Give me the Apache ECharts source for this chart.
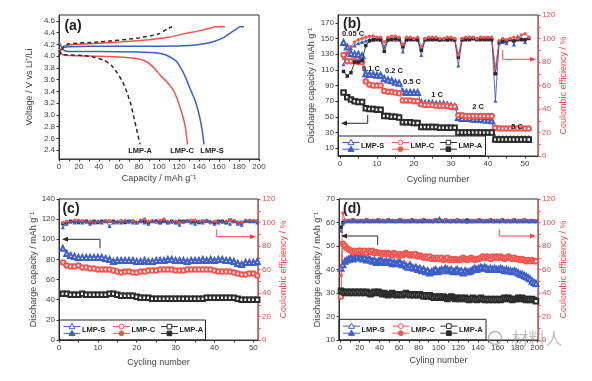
<!DOCTYPE html>
<html><head><meta charset="utf-8">
<script src="https://cdn.jsdelivr.net/npm/echarts@6/dist/echarts.min.js"></script>
<style>html,body{margin:0;padding:0;background:#fff}#c{width:592px;height:381px}</style>
</head><body><div id="c"></div>
<script>
// ---------- Panel (a): voltage profiles [capacity, voltage] ----------
const aS_charge = [[0,4.05],[2,4.12],[5,4.15],[10,4.16],[30,4.17],[60,4.17],[100,4.17],[130,4.18],[145,4.21],[155,4.25],[165,4.32],[172,4.4],[178,4.47],[181,4.5],[185,4.5]];
const aS_dis = [[0,4.25],[2,4.17],[5,4.1],[10,4.08],[40,4.08],[80,4.07],[100,4.05],[107,4.02],[117,3.92],[121,3.82],[126,3.66],[131,3.45],[136,3.25],[139.5,3.05],[142,2.85],[143.5,2.7],[145,2.5]];
const aC_charge = [[0,4.0],[2,4.1],[5,4.17],[10,4.19],[30,4.21],[60,4.24],[90,4.28],[110,4.32],[125,4.38],[140,4.43],[150,4.47],[156,4.5],[166,4.5]];
const aC_dis = [[0,4.12],[3,4.03],[10,4.01],[40,4.0],[65,3.98],[80,3.95],[88,3.9],[95,3.8],[102,3.66],[108,3.56],[114,3.43],[118,3.28],[122,3.08],[125,2.9],[127,2.72],[128.5,2.5]];
const aA_charge = [[0,4.0],[2,4.08],[5,4.17],[10,4.21],[40,4.24],[80,4.31],[100,4.38],[108,4.46],[113,4.5]];
const aA_dis = [[0,4.1],[3,4.03],[8,4.02],[25,4.01],[35,3.98],[45,3.93],[52,3.85],[58,3.72],[64,3.55],[68,3.38],[72,3.17],[75,2.95],[77,2.8],[79,2.65],[81,2.5]];

// ---------- Panel (b): rate performance, cycles 1..51 ----------
const bS_dis = [145,139,131,130,130,128, 105,104,104,103,103, 99,97,96,94,93, 82,81,81,81,81,
  68,67,67,67,66,66,66,65,64,63, 49,48,48,48,47,47,47,46,46,45, 22,21,21,21,21,21,21,21,21,21];
const bC_dis = [129,121,121,121,120,120, 95,91,90,90,90, 83,82,82,81,80, 71,71,71,70,70,
  66,65,65,65,64,64,64,64,63,63, 52,52,51,51,51,51,51,51,51,51, 36,35,35,35,35,35,35,35,35,35];
const bA_dis = [81,75,72,70,69,69, 61,60,60,59,59, 51,51,50,50,49, 43,43,43,42,42,
  37,37,37,37,37,36,36,36,36,36, 30,30,30,30,30,30,30,30,30,30, 21,21,21,21,21,21,21,21,21,21];
const bS_ce = [78,88,92,94,96,97, 98,99,99,100,99, 93,99,100,99,100, 89,99,100,100,99,
  86,99,100,100,100,99,100,99,100,99, 77,99,100,101,100,100,101,100,100,101, 47,96,97,96,100,95,102,100,97,101];
const bC_ce = [83,88,93,97,99,100, 101,102,102,101,101, 97,101,102,102,101, 95,101,101,100,101,
  93,100,101,101,101,100,100,101,101,100, 86,100,101,101,101,100,101,101,101,101, 75,98,100,99,100,101,100,103,104,101];
const bA_ce = [72,68,71,80,80,81, 94,98,99,99,99, 89,99,99,100,99, 93,99,99,99,99,
  90,99,99,99,99,99,99,99,99,99, 84,99,99,99,100,99,99,99,99,99, 70,97,98,98,99,98,99,99,99,100];
const bRates = ['0.05 C','0.1 C','0.2 C','0.5 C','1 C','2 C','5 C'];

// ---------- Panel (c): cycling, cycles 1..51 ----------
const cS_dis = [91,86,84,83,82,82,82,82,82,82, 82,81,80,78,79,79,79,79,79,78, 78,79,78,78,79,79,79,80,80,79,
  79,79,78,79,79,79,80,79,80,79, 80,80,79,79,78,76,75,77,77,77, 78];
const cC_dis = [77,74,73,73,74,72,72,71,71,70, 70,70,70,69,68,67,68,68,67,67, 68,68,69,69,69,70,70,70,70,69,
  69,69,70,70,70,70,70,70,70,69, 68,68,68,68,67,66,65,65,66,66, 64];
const cA_dis = [46,46,45,45,45,46,45,45,45,45, 45,45,46,46,45,44,44,44,44,43, 42,42,42,41,41,41,41,41,41,41,
  41,41,41,41,41,41,41,42,42,42, 42,42,42,42,42,41,40,40,40,40, 40];
const cS_ce = [96,99,101,100,101,100,101,99,100,101, 100,101,97,100,101,100,102,101,100,100, 101,100,99,101,102,100,101,100,101,100,
  98,101,102,100,99,101,100,102,101,99, 100,101,100,99,101,99,98,102,101,101, 100];
const cC_ce = [100,101,100,102,102,101,100,101,100,101, 100,101,101,100,100,101,101,100,101,100, 102,103,101,101,100,102,103,101,100,101,
  100,100,101,102,102,101,101,101,100,101, 100,100,101,102,101,100,100,101,102,101, 101];
const cA_ce = [99,100,101,101,100,101,101,100,101,100, 101,101,101,101,100,101,100,101,101,100, 101,101,100,101,101,100,101,100,101,100,
  101,101,101,101,101,100,101,101,100,100, 101,101,100,102,101,100,100,101,101,101, 101];

// ---------- Panel (d): long cycling, every 2nd cycle (1,3,...,199) ----------
const dS_dis = [40.5,42,43.5,44,44.5,45,44.5,45,45.5,45, 45,44.5,45,44,44.5,44,43.5,44,43,43.5,
  44,43.5,43,43.5,43,43.5,42.5,43,42.5,43, 43,42,42.5,41.5,41,42,41,40.5,41,40,
  40.5,39.5,40,39,39.5,38.5,39,39.5,40,39, 39.5,40,39.5,40.5,40,39.5,40,39,39.5,40,
  39,39.5,38.5,39.5,39,39,39.5,40,40.5,40, 40.5,41,40.5,41,40.5,40,40.5,40,40.5,40,
  40,40.5,40,39.5,40,39.5,39.5,39,39.5,39, 38.5,38,38,37.5,37,36.5,36,35,34.5,34];
const dC_dis = [28.5,51,50,49,48.5,48,47.5,48,47.5,48, 48,47.5,48,47,48,47.5,48,47,47.5,47,
  47,46.5,47,46.5,47,46.5,46,47,46.5,46, 46.5,46,46.5,47,46.5,46,46.5,46,46.5,45.5,
  46,45.5,45,45.5,45,45.5,44.5,45,44.5,45, 44.5,45,44,44.5,45,44,44.5,44,44.5,44,
  44,44.5,45,44.5,44,44.5,45,44.5,44,44.5, 44.5,45,45.5,45,45.5,45,44.5,45.5,45,45.5,
  45,45.5,45,44.5,45,45.5,45,44.5,45,44.5, 44.5,44,44.5,44,43.5,44,43.5,44,43.5,43.5];
const dA_dis = [31,30.5,30,30.5,30,30.5,30,30.5,30,30.5, 30,30.5,30,30.5,30,29.5,30,30.5,30,30.5,
  30,29.5,30,29.5,29,29.5,30,29.5,29,29.5, 29.5,29,29.5,30,29.5,29,29.5,29,29.5,29,
  29.5,29,28.5,29,28.5,29,28.5,28,28.5,28, 28.5,28,28.5,28,27.5,28,28.5,28,27.5,28,
  27.5,28,27.5,28,27.5,27,27.5,28,27.5,27, 27.5,28,27.5,27,27.5,27,27.5,27,27.5,27,
  27.5,27,27.5,28,27.5,28,27.5,27,27.5,27.5, 28,27.5,28,27.5,27,27.5,27,27.5,27,26.5];
const dS_ce = [93,99,101,101,102,101,101,102,101,101, 102,101,101,102,101,101,102,101,102,101,
  101,102,101,101,102,101,102,101,101,102, 101,102,101,101,102,101,101,102,101,101,
  102,101,101,102,101,102,101,101,102,101, 104,102,101,101,102,101,101,102,101,101,
  102,101,101,102,101,102,101,101,102,101, 101,102,101,101,102,101,102,101,101,102,
  101,101,102,101,101,102,101,101,102,101, 101,102,101,101,102,101,101,102,101,101];
const dC_ce = [55,108,102,101,101,102,101,101,102,101, 101,102,101,101,102,101,101,102,101,101,
  102,101,101,102,101,101,102,101,101,102, 101,101,102,101,101,102,101,101,102,101,
  101,102,101,101,102,101,101,102,101,101, 102,101,101,102,101,101,102,101,101,102,
  101,101,102,101,100,101,102,101,101,102, 101,101,102,101,101,102,101,101,102,101,
  101,102,101,101,102,101,101,102,101,101, 102,101,101,102,101,101,102,101,101,101];
const dA_ce = [96,100,101,101,101,101,102,101,101,101, 101,101,101,102,101,101,101,101,101,102,
  101,101,101,101,102,101,101,101,101,101, 102,101,101,101,101,101,102,101,101,101,
  101,101,102,101,101,101,101,101,102,101, 101,101,101,102,101,101,101,101,101,102,
  101,101,101,101,102,101,101,101,101,101, 102,101,101,101,101,101,102,101,101,101,
  101,101,102,101,101,101,101,101,102,101, 101,101,101,102,101,101,101,101,101,101];

// ---------- tick labels and tick marks ----------
const aXticks = [0,20,40,60,80,100,120,140,160,180,200];
const aXmarks = [0,10,20,30,40,50,60,70,80,90,100,110,120,130,140,150,160,170,180,190,200];
const aYticks = [2.4,2.6,2.8,3.0,3.2,3.4,3.6,3.8,4.0,4.2,4.4,4.6];
const bXticks = [0,10,20,30,40,50];
const bXmarks = [0,5,10,15,20,25,30,35,40,45,50];
const bYticks = [10,30,50,70,90,110,130,150,170];
const ceTicks = [0,20,40,60,80,100,120];
const ceMarks = [0,10,20,30,40,50,60,70,80,90,100,110,120];
const cXticks = [0,10,20,30,40,50];
const cXmarks = [0,5,10,15,20,25,30,35,40,45,50];
const cYticks = [0,20,40,60,80,100,120,140];
const dXticks = [0,20,40,60,80,100,120,140,160,180,200];
const dXmarks = [0,10,20,30,40,50,60,70,80,90,100,110,120,130,140,150,160,170,180,190,200];
const dYticks = [10,20,30,40,50,60,70];
const names = ['LMP-S','LMP-C','LMP-A'];

// ---------- styling & build ----------
const FONT = '"Liberation Sans", Arial, Helvetica, sans-serif';
const BLUE = '#3d5ec8', RED = '#f2554f', BLACK = '#2b2b2b', AXRED = '#f04848';

function xAx(gi, min, max, ticks, marks, name, gap) {
  return {type:'value', gridIndex:gi, min, max, name, nameLocation:'middle', nameGap:gap,
    nameTextStyle:{fontFamily:FONT, fontSize:9, color:'#444'},
    axisLine:{show:true, onZero:false, lineStyle:{color:'#333', width:1}},
    axisTick:{show:true, customValues:marks, length:2.5, lineStyle:{color:'#333'}},
    axisLabel:{customValues:ticks, fontFamily:FONT, fontSize:8, color:'#444', margin:4},
    splitLine:{show:false}};
}
function yAx(gi, min, max, ticks, marks, name, gap, pos, red, fmt) {
  const col = red ? AXRED : '#333';
  return {type:'value', gridIndex:gi, min, max, position:pos, name, nameLocation:'middle', nameGap:gap, nameRotate:90,
    nameTextStyle:{fontFamily:FONT, fontSize:9, color: red ? AXRED : '#444'},
    axisLine:{show:true, onZero:false, lineStyle:{color:col, width:1}},
    axisTick:{show:true, customValues:marks, length:2.5, lineStyle:{color:col}},
    axisLabel:{customValues:ticks, fontFamily:FONT, fontSize:8, color: red ? AXRED : '#444', margin:4, formatter: fmt || undefined},
    splitLine:{show:false}};
}
const toPairs = (arr, step) => arr.map((v, i) => [1 + i * step, v]);

const series = [];
function curve(data, color, dashed) {
  series.push({type:'line', xAxisIndex:0, yAxisIndex:0, data, symbol:'none', smooth:0.2,
    lineStyle:{color, width:1.5, type: dashed ? [4,3] : 'solid'}, z:3});
}
curve(aS_charge, BLUE); curve(aS_dis, BLUE);
curve(aC_charge, RED); curve(aC_dis, RED);
curve(aA_charge, BLACK, true); curve(aA_dis, BLACK, true);

function cyc(xi, yi, data, step, color, sym, size, z) {
  series.push({type:'line', xAxisIndex:xi, yAxisIndex:yi, data:toPairs(data, step), symbol:sym, symbolSize:size,
    showAllSymbol:true, lineStyle:{color, width:0.9}, itemStyle:{color, borderWidth:1}, z});
}
// (b)
cyc(1,1,bS_dis,1,BLUE,'emptyTriangle',5,3); cyc(1,1,bC_dis,1,RED,'emptyCircle',4.5,3); cyc(1,1,bA_dis,1,BLACK,'emptyRect',4.5,3);
cyc(1,2,bS_ce,1,BLUE,'triangle',4,4); cyc(1,2,bA_ce,1,BLACK,'rect',3.5,4); cyc(1,2,bC_ce,1,RED,'circle',3.5,4);
// (c)
cyc(2,3,cS_dis,1,BLUE,'emptyTriangle',5,3); cyc(2,3,cC_dis,1,RED,'emptyCircle',4.5,3); cyc(2,3,cA_dis,1,BLACK,'emptyRect',4.5,3);
cyc(2,4,cA_ce,1,BLACK,'rect',3.5,4); cyc(2,4,cC_ce,1,RED,'circle',3.5,4); cyc(2,4,cS_ce,1,BLUE,'triangle',4,4);
// (d)
cyc(3,5,dS_dis,2,BLUE,'emptyTriangle',5,3); cyc(3,5,dC_dis,2,RED,'emptyCircle',4.5,3); cyc(3,5,dA_dis,2,BLACK,'emptyRect',4.5,3);
cyc(3,6,dA_ce,2,BLACK,'rect',3.5,4); cyc(3,6,dC_ce,2,RED,'circle',3.5,4); cyc(3,6,dS_ce,2,BLUE,'triangle',4,4);

// ---------- decorations ----------
const G = [];
function txt(x, y, s, o) {
  const st = Object.assign({text:s, fontFamily:FONT, fontSize:8, fontWeight:'bold', fill:'#222',
    align:'center', verticalAlign:'middle', textAlign:'center', textVerticalAlign:'middle'}, o || {});
  if (o && o.align) { st.textAlign = o.align; }
  G.push({type:'text', x, y, style:st, z:100});
}
function pline(points, color, w) {
  G.push({type:'polyline', shape:{points}, style:{stroke:color, lineWidth:w || 1, fill:null}, z:100});
}
function arrow(points, color) {
  pline(points, color, 1);
  const n = points.length, p = points[n-1], q = points[n-2];
  const dx = Math.sign(p[0]-q[0]);
  G.push({type:'polygon', shape:{points:[[p[0]+dx*2,p[1]],[p[0]-dx*4,p[1]-2.5],[p[0]-dx*4,p[1]+2.5]]}, style:{fill:color}, z:100});
}
function marker(kind, cx, cy, color, filled) {
  const fill = filled ? color : '#fff';
  if (kind === 0) G.push({type:'polygon', shape:{points:[[cx,cy-3],[cx-3,cy+2.2],[cx+3,cy+2.2]]}, style:{fill, stroke:color, lineWidth:1}, z:101});
  else if (kind === 1) G.push({type:'circle', shape:{cx, cy, r:2.4}, style:{fill, stroke:color, lineWidth:1}, z:101});
  else G.push({type:'rect', shape:{x:cx-2.3, y:cy-2.3, width:4.6, height:4.6}, style:{fill, stroke:color, lineWidth:1}, z:101});
}
function legendBox(x0, y0, w, h) {
  G.push({type:'rect', shape:{x:x0, y:y0, width:w, height:h}, style:{fill:null, stroke:'#222', lineWidth:1}, z:99});
  const offs = [4, 53.4, 101.4], cols = [BLUE, RED, BLACK];
  for (let k = 0; k < 3; k++) {
    const xa = x0 + offs[k], xb = xa + 17, cx = (xa + xb) / 2;
    const y1 = y0 + h * 0.33, y2 = y0 + h * 0.67;
    pline([[xa,y1],[xb,y1]], cols[k], 1); pline([[xa,y2],[xb,y2]], cols[k], 1);
    marker(k, cx, y1, cols[k], false); marker(k, cx, y2, cols[k], true);
    txt(xb + 1.5, y0 + h / 2, names[k], {align:'left', fontSize:7.5});
  }
}
// panel labels
txt(73, 26, '(a)', {fontSize:14}); txt(352, 24, '(b)', {fontSize:14});
txt(71, 209, '(c)', {fontSize:14}); txt(352, 209, '(d)', {fontSize:14});
// (a) curve labels
txt(140, 151, names[2], {fontSize:7.5}); txt(182, 151, names[1], {fontSize:7.5}); txt(212, 151, names[0], {fontSize:7.5});
// (b) rate labels
const rpos = [[353,34],[371,69],[394,71],[412,82],[437,95],[478,107],[517,127]];
bRates.forEach((r, i) => txt(rpos[i][0], rpos[i][1], r, {fontSize:7.5}));
// legends
legendBox(338.5, 136, 147, 19.7);
legendBox(59.5, 320, 146, 20);
legendBox(339, 319.3, 147, 20.7);
// arrows
arrow([[367.7,115],[367.7,123.3],[343,123.3]], BLACK);
arrow([[502.7,50],[502.7,59.3],[534,59.3]], AXRED);
arrow([[100,248.3],[100,239.3],[64,239.3]], BLACK);
arrow([[216.7,229.3],[216.7,236.7],[254,236.7]], AXRED);
arrow([[377.7,245],[377.7,236],[343,236]], BLACK);
arrow([[499.3,229.3],[499.3,236],[534,236]], AXRED);
// watermark
G.push({type:'circle', shape:{cx:495, cy:338, r:6.5}, style:{fill:null, stroke:'rgba(140,140,140,0.6)', lineWidth:1.5}, z:102});
txt(537, 339, '材料人', {fontFamily:'"Noto Sans CJK SC", sans-serif', fontSize:17, fontWeight:'normal', fill:'rgba(140,140,140,0.55)'});

const gridBase = {show:true, borderColor:'#333', borderWidth:1, backgroundColor:'transparent'};
const option = {
  animation:false, backgroundColor:'#fff',
  grid:[
    Object.assign({left:59, top:15, width:200, height:144}, gridBase),
    Object.assign({left:338, top:15, width:200, height:141}, gridBase),
    Object.assign({left:59, top:199, width:199, height:141}, gridBase),
    Object.assign({left:339, top:199, width:199, height:141}, gridBase)
  ],
  xAxis:[
    xAx(0, 0, 200, aXticks, aXmarks, 'Capacity / mAh g⁻¹', 15),
    xAx(1, -0.5, 53.5, bXticks, bXmarks, 'Cycling number', 19),
    xAx(2, 0, 51.2, cXticks, cXmarks, 'Cycling number', 18),
    xAx(3, -1, 201, dXticks, dXmarks, 'Cyling number', 16)
  ],
  yAxis:[
    yAx(0, 2.25, 4.7, aYticks, aYticks, 'Voltage / V vs Li⁺/Li', 25, 'left', false, v => v.toFixed(1)),
    yAx(1, 0, 180, bYticks, bYticks, 'Discharge capacity / mAh g⁻¹', 22, 'left', false),
    yAx(1, 0, 120, ceTicks, ceMarks, 'Coulombic efficiency / %', 20, 'right', true),
    yAx(2, 0, 140, cYticks, cYticks, 'Discharge capacity / mAh g⁻¹', 21, 'left', false),
    yAx(2, 0, 120, ceTicks, ceMarks, 'Coulombic efficiency / %', 21, 'right', true),
    yAx(3, 10, 70, dYticks, dYticks, 'Discharge capacity / mAh g⁻¹', 16, 'left', false),
    yAx(3, 0, 120, ceTicks, ceMarks, 'Coulombic efficiency / %', 21, 'right', true)
  ],
  series,
  graphic:{elements:G}
};
const chart = echarts.init(document.getElementById('c'), null, {renderer:'canvas'});
chart.setOption(option);
</script></body></html>
